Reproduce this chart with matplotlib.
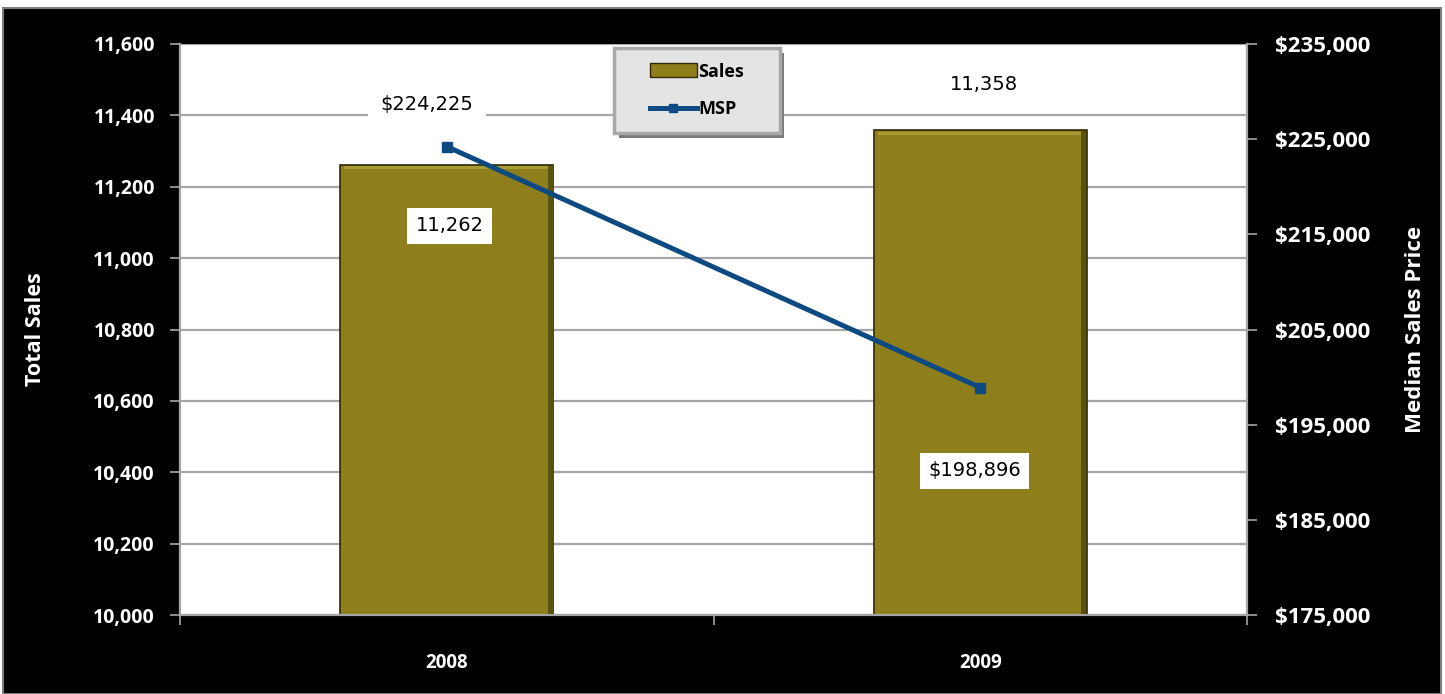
import matplotlib
matplotlib.use("Agg")
import matplotlib.pyplot as plt
from matplotlib.patches import Rectangle
from matplotlib.lines import Line2D
from matplotlib.ticker import FuncFormatter
import numpy as np

# Data
years = ["2008", "2009"]
sales = [11262, 11358]
msp = [224225, 198896]

sales_ticks = [10000, 10200, 10400, 10600, 10800, 11000, 11200, 11400, 11600]
msp_ticks = [175000, 185000, 195000, 205000, 215000, 225000, 235000]

bar_color = "#8E7F1C"
line_color = "#0D4A82"
grid_color = "#a6a6a6"

plt.rcParams["font.family"] = ["Open Sans", "DejaVu Sans"]
plt.rcParams["font.weight"] = "bold"

fig = plt.figure(figsize=(14.45, 6.94), dpi=100, facecolor="white")
# black chart area with a thin grey frame
fig.patches.append(Rectangle((3 / 1445, 0), 1438 / 1445, 686 / 694,
                             transform=fig.transFigure, facecolor="black",
                             edgecolor="#7f7f7f", linewidth=1.5, zorder=-5))

ax = fig.add_axes([180 / 1445, 1 - 615 / 694, 1067 / 1445, 571 / 694])
ax.set_facecolor("white")
x = np.arange(len(years))

bars = ax.bar(x, sales, width=0.40, color=bar_color, edgecolor="#2e2a06",
              linewidth=1.2, zorder=2)
# bevel: light strip on top, dark shading on right edge
for xi, v in zip(x, sales):
    ax.bar(xi, 8, bottom=v - 12, width=0.385, color="#ab9c36", linewidth=0, zorder=3)
    ax.bar(xi + 0.194, v - 10006, bottom=10003, width=0.010, color="#5a520f",
           linewidth=0, zorder=3)

ax.set_xlim(-0.5, 1.5)
ax.set_ylim(10000, 11600)
ax.set_yticks(sales_ticks)
ax.yaxis.set_major_formatter(FuncFormatter(lambda v, p: f"{int(v):,}"))
ax.grid(axis="y", color=grid_color, linewidth=1.6, zorder=0)
ax.set_axisbelow(True)

ax.set_xticks(x)
ax.set_xticklabels(years)
ax.set_xticks([-0.5, 0.5, 1.5], minor=True)
ax.tick_params(axis="x", which="major", length=0, pad=27, colors="white",
               labelsize=13.5)
ax.tick_params(axis="x", which="minor", length=7, width=1.2, color=grid_color)
ax.tick_params(axis="y", length=7, width=1.2, color=grid_color, pad=11,
               labelcolor="white", labelsize=14)

for s in ["top", "right"]:
    ax.spines[s].set_visible(False)
for s in ["left", "bottom"]:
    ax.spines[s].set_color(grid_color)
    ax.spines[s].set_linewidth(1.6)

ax.set_ylabel("Total Sales", color="white", fontsize=15.5, fontweight="bold",
              labelpad=34)

# secondary axis for median sales price
ax2 = ax.twinx()
ax2.plot(x, msp, color=line_color, linewidth=3.6, marker="s", markersize=7.5,
         zorder=4)
ax2.set_ylim(175000, 235000)
ax2.set_yticks(msp_ticks)
ax2.yaxis.set_major_formatter(FuncFormatter(lambda v, p: f"${int(v):,}"))
ax2.tick_params(axis="y", length=7, width=1.2, color=grid_color, pad=13,
                labelcolor="white", labelsize=16)
for s in ["top", "left", "bottom"]:
    ax2.spines[s].set_visible(False)
ax2.spines["right"].set_color(grid_color)
ax2.spines["right"].set_linewidth(1.6)
ax2.set_ylabel("Median Sales Price", color="white", fontsize=16,
               fontweight="bold", labelpad=25, rotation=90)

# data labels
box = dict(facecolor="white", edgecolor="none", pad=6)
lbl_kw = dict(ha="center", va="center", fontsize=14, color="black",
              fontweight="normal", fontfamily="DejaVu Sans",
              textcoords="offset points", zorder=6)
ax.annotate(f"{sales[0]:,}", (x[0], sales[0]), xytext=(2, -44), bbox=box, **lbl_kw)
ax.annotate(f"{sales[1]:,}", (x[1], sales[1]), xytext=(3, 33), bbox=box, **lbl_kw)
ax2.annotate(f"${msp[0]:,}", (x[0], msp[0]), xytext=(-14, 30),
             bbox=dict(facecolor="white", edgecolor="none", pad=9), **lbl_kw)
ax2.annotate(f"${msp[1]:,}", (x[1], msp[1]), xytext=(-4, -60), bbox=box, **lbl_kw)

# legend: grey bevelled box with drop shadow, entries drawn on top
lx, ly, lw, lh = 0.407, 0.844, 0.155, 0.149
ax2.add_patch(Rectangle((lx + 0.004, ly - 0.008), lw, lh, transform=ax2.transAxes,
                        facecolor="#7a7a7a", edgecolor="none", zorder=6,
                        clip_on=False))
ax2.add_patch(Rectangle((lx, ly), lw, lh, transform=ax2.transAxes,
                        facecolor="#e4e4e4", edgecolor="#a8a8a8", linewidth=2.5,
                        zorder=6.5, clip_on=False))
handles = [Rectangle((0, 0), 1, 1, facecolor=bar_color, edgecolor="#2e2a06"),
           Line2D([], [], color=line_color, linewidth=3.6, marker="s",
                  markersize=6)]
leg = ax2.legend(handles, ["Sales", "MSP"], loc="center",
                 bbox_to_anchor=(lx, ly, lw, lh), frameon=False,
                 prop={"weight": "bold", "size": 13},
                 handlelength=2.6, handleheight=0.8, handletextpad=0.1,
                 labelspacing=1.1, borderpad=0.3)
leg.set_zorder(7)

fig.savefig("out.png", dpi=100, facecolor=fig.get_facecolor())
